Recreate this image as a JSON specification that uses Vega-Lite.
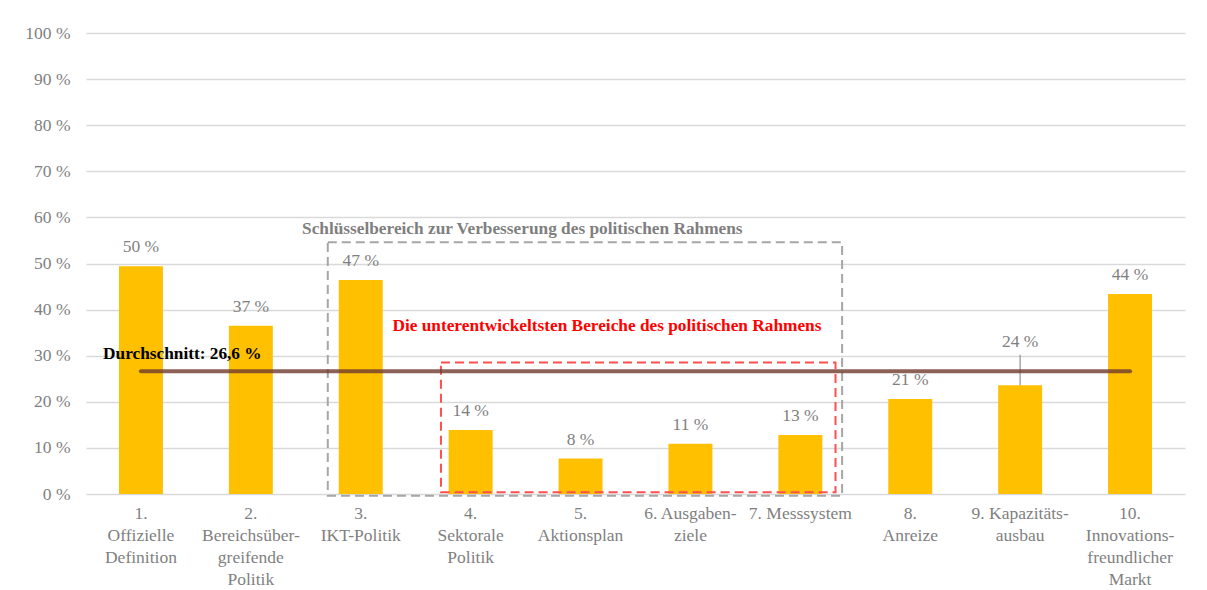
{
  "$schema": "https://vega.github.io/schema/vega-lite/v6.json",
  "width": 1099,
  "height": 461,
  "autosize": {"type": "none"},
  "padding": {"left": 86, "top": 33, "right": 22, "bottom": 96},
  "background": "white",
  "config": {
    "view": {"stroke": null},
    "font": "'Liberation Serif', 'Times New Roman', Times, serif",
    "scale": {"bandPaddingInner": 0.6, "bandPaddingOuter": 0.3}
  },
  "datasets": {
    "bars": [
      {"cat": "1.\nOffizielle\nDefinition", "value": 49.4, "label": "50 %"},
      {"cat": "2.\nBereichsüber-\ngreifende\nPolitik", "value": 36.5, "label": "37 %"},
      {"cat": "3.\nIKT-Politik", "value": 46.4, "label": "47 %"},
      {"cat": "4.\nSektorale\nPolitik", "value": 13.9, "label": "14 %"},
      {"cat": "5.\nAktionsplan", "value": 7.7, "label": "8 %"},
      {"cat": "6. Ausgaben-\nziele", "value": 10.9, "label": "11 %"},
      {"cat": "7. Messsystem", "value": 12.8, "label": "13 %"},
      {"cat": "8.\nAnreize", "value": 20.6, "label": "21 %"},
      {"cat": "9. Kapazitäts-\nausbau", "value": 23.6, "label": "24 %", "leaderTop": 30.2},
      {"cat": "10.\nInnovations-\nfreundlicher\nMarkt", "value": 43.4, "label": "44 %"}
    ],
    "boxes": [
      {"box": "weakest", "x": 3.73, "x2": 7.32, "y": 0.4, "y2": 28.5},
      {"box": "key", "x": 2.7, "x2": 7.38, "y": -0.4, "y2": 54.6}
    ],
    "avg": [{"x": 1, "x2": 10, "y": 26.6}],
    "keyNote": [{"x": 4.47, "y": 57.4, "text": "Schlüsselbereich zur Verbesserung des politischen Rahmens"}],
    "weakNote": [{"x": 5.24, "y": 36.4, "text": "Die unterentwickeltsten Bereiche des politischen Rahmens"}],
    "avgNote": [{"x": 0.655, "y": 30.4, "text": "Durchschnitt: 26,6 %"}]
  },
  "layer": [
    {
      "data": {"name": "bars"},
      "layer": [
        {
          "mark": {"type": "bar", "color": "#FFC000"},
          "encoding": {
            "x": {
              "field": "cat", "type": "nominal", "sort": null,
              "axis": {
                "title": null, "labelAngle": 0, "ticks": false, "domain": false,
                "labelExpr": "split(datum.value, '\\n')",
                "labelFontSize": 17.5, "labelColor": "#7f7f7f", "labelPadding": 10,
                "labelLineHeight": 22, "labelOverlap": false, "labelBound": false,
                "labelBaseline": "top"
              }
            },
            "y": {
              "field": "value", "type": "quantitative",
              "scale": {"domain": [0, 100]},
              "axis": {
                "title": null, "values": [0, 10, 20, 30, 40, 50, 60, 70, 80, 90, 100],
                "labelExpr": "datum.value + ' %'", "labelFontSize": 17.5,
                "labelColor": "#7f7f7f", "labelPadding": 16, "ticks": false,
                "domain": false, "gridColor": "#d9d9d9", "gridWidth": 1.3
              }
            }
          }
        },
        {
          "transform": [{"filter": "!isValid(datum.leaderTop)"}],
          "mark": {"type": "text", "fontSize": 17.5, "color": "#7f7f7f", "dy": -14, "baseline": "alphabetic"},
          "encoding": {
            "x": {"field": "cat", "type": "nominal", "sort": null, "title": null},
            "y": {"field": "value", "type": "quantitative", "title": null},
            "text": {"field": "label"}
          }
        },
        {
          "transform": [{"filter": "isValid(datum.leaderTop)"}],
          "mark": {"type": "rule", "color": "#a6a6a6", "strokeWidth": 1.5},
          "encoding": {
            "x": {"field": "cat", "type": "nominal", "sort": null, "title": null},
            "y": {"field": "value", "type": "quantitative", "title": null},
            "y2": {"field": "leaderTop"}
          }
        },
        {
          "transform": [{"filter": "isValid(datum.leaderTop)"}],
          "mark": {"type": "text", "fontSize": 17.5, "color": "#7f7f7f", "dy": -8, "baseline": "alphabetic"},
          "encoding": {
            "x": {"field": "cat", "type": "nominal", "sort": null, "title": null},
            "y": {"field": "leaderTop", "type": "quantitative", "title": null},
            "text": {"field": "label"}
          }
        }
      ]
    },
    {
      "layer": [
        {
          "data": {"name": "boxes"},
          "mark": {"type": "rect", "fill": null, "filled": false, "strokeWidth": 2, "strokeDash": [9, 5]},
          "encoding": {
            "x": {"field": "x", "type": "quantitative", "scale": {"domain": [0.5, 10.5], "nice": false, "zero": false}, "axis": null},
            "x2": {"field": "x2"},
            "y": {"field": "y", "type": "quantitative", "title": null},
            "y2": {"field": "y2"},
            "stroke": {"field": "box", "type": "nominal", "scale": {"domain": ["key", "weakest"], "range": ["#a6a6a6", "#ff4f4f"]}, "legend": null}
          }
        },
        {
          "data": {"name": "avg"},
          "mark": {"type": "rule", "color": "#6e3a2e", "opacity": 0.8, "strokeWidth": 4, "strokeCap": "round"},
          "encoding": {
            "x": {"field": "x", "type": "quantitative", "scale": {"domain": [0.5, 10.5], "nice": false, "zero": false}, "axis": null},
            "x2": {"field": "x2"},
            "y": {"field": "y", "type": "quantitative", "title": null}
          }
        },
        {
          "data": {"name": "keyNote"},
          "mark": {"type": "text", "fontSize": 17.3, "fontWeight": "bold", "color": "#7f7f7f", "baseline": "middle", "align": "center"},
          "encoding": {
            "x": {"field": "x", "type": "quantitative", "scale": {"domain": [0.5, 10.5], "nice": false, "zero": false}, "axis": null},
            "y": {"field": "y", "type": "quantitative", "title": null},
            "text": {"field": "text"}
          }
        },
        {
          "data": {"name": "weakNote"},
          "mark": {"type": "text", "fontSize": 17.3, "fontWeight": "bold", "color": "#ff0000", "baseline": "middle", "align": "center"},
          "encoding": {
            "x": {"field": "x", "type": "quantitative", "scale": {"domain": [0.5, 10.5], "nice": false, "zero": false}, "axis": null},
            "y": {"field": "y", "type": "quantitative", "title": null},
            "text": {"field": "text"}
          }
        },
        {
          "data": {"name": "avgNote"},
          "mark": {"type": "text", "fontSize": 17.3, "fontWeight": "bold", "color": "#000000", "baseline": "middle", "align": "left"},
          "encoding": {
            "x": {"field": "x", "type": "quantitative", "scale": {"domain": [0.5, 10.5], "nice": false, "zero": false}, "axis": null},
            "y": {"field": "y", "type": "quantitative", "title": null},
            "text": {"field": "text"}
          }
        }
      ]
    }
  ],
  "resolve": {"scale": {"x": "independent"}}
}
